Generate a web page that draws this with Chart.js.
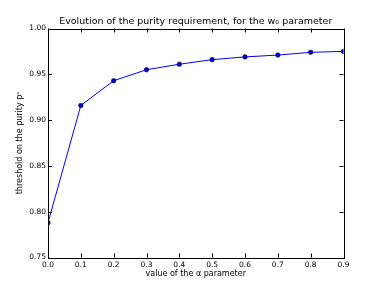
<!DOCTYPE html>
<html>
<head>
<meta charset="utf-8">
<script src="https://cdn.jsdelivr.net/npm/chart.js@4/dist/chart.umd.min.js"></script>
<style>
  html, body { margin: 0; padding: 0; background: #fff; }
  #wrap { width: 382px; height: 286px; }
</style>
</head>
<body>
<div id="wrap"><canvas id="myChart"></canvas></div>
<script>
const alphaValues = [0.0, 0.1, 0.2, 0.3, 0.4, 0.5, 0.6, 0.7, 0.8, 0.9];
const purityThresholds = [0.788, 0.916, 0.943, 0.955, 0.961, 0.966, 0.969, 0.971, 0.974, 0.975];
const xTicks = [0.0, 0.1, 0.2, 0.3, 0.4, 0.5, 0.6, 0.7, 0.8, 0.9];
const yTicks = [0.75, 0.80, 0.85, 0.90, 0.95, 1.00];
const chartTitle = "Evolution of the purity requirement, for the w₀ parameter";

const fontFamily = "'DejaVu Sans', sans-serif";

// matplotlib style frame with inward ticks on all four sides, title centred on the axes
const frameTicks = {
    id: "frameTicks",
    afterDraw(chart) {
        const { ctx, chartArea: a, scales } = chart;
        ctx.save();
        ctx.strokeStyle = "#000";
        ctx.lineWidth = 1;
        ctx.beginPath();
        xTicks.forEach((v) => {
            const x = Math.round(scales.x.getPixelForValue(v)) + 0.5;
            ctx.moveTo(x, a.bottom);
            ctx.lineTo(x, a.bottom - 4);
            ctx.moveTo(x, a.top);
            ctx.lineTo(x, a.top + 4);
        });
        yTicks.forEach((v) => {
            const y = Math.round(scales.y.getPixelForValue(v)) + 0.5;
            ctx.moveTo(a.left, y);
            ctx.lineTo(a.left + 4, y);
            ctx.moveTo(a.right, y);
            ctx.lineTo(a.right - 4, y);
        });
        ctx.stroke();
        ctx.strokeRect(Math.round(a.left) + 0.5, Math.round(a.top) + 0.5,
            Math.round(a.right - a.left), Math.round(a.bottom - a.top));

        ctx.fillStyle = "#000";
        ctx.font = "9.5px " + fontFamily;
        ctx.textAlign = "center";
        ctx.textBaseline = "middle";
        ctx.fillText(chartTitle, (a.left + a.right) / 2, 22);
        ctx.restore();
    },
};

const ctx = document.getElementById("myChart");

new Chart(ctx, {
    type: "line",
    data: {
        datasets: [
            {
                data: alphaValues.map((a, i) => ({ x: a, y: purityThresholds[i] })),
                borderColor: "#0000ff",
                borderWidth: 1,
                backgroundColor: "#0000cc",
                pointBackgroundColor: "#0000cc",
                pointBorderColor: "#000033",
                pointBorderWidth: 0.5,
                pointRadius: 2.3,
                tension: 0,
                clip: 0,
            },
        ],
    },
    options: {
        responsive: true,
        maintainAspectRatio: false,
        animation: false,
        layout: { padding: { left: 0, right: 38.5, top: 28.5, bottom: 0 } },
        scales: {
            x: {
                type: "linear",
                min: 0,
                max: 0.9,
                afterBuildTicks: (s) => { s.ticks = xTicks.map((v) => ({ value: v })); },
                afterFit: (s) => { s.height = 28.5; },
                grid: { display: false, drawTicks: false },
                border: { display: false },
                ticks: {
                    padding: 3,
                    color: "#000",
                    font: { family: fontFamily, size: 7.5 },
                    maxRotation: 0,
                    callback: (v) => v.toFixed(1),
                },
                title: {
                    display: true,
                    text: "value of the α parameter",
                    color: "#000",
                    font: { family: fontFamily, size: 8 },
                    padding: { top: 0, bottom: 7.5 },
                },
            },
            y: {
                min: 0.75,
                max: 1.0,
                afterBuildTicks: (s) => { s.ticks = yTicks.map((v) => ({ value: v })); },
                afterFit: (s) => { s.width = 48; },
                grid: { display: false, drawTicks: false },
                border: { display: false },
                ticks: {
                    padding: 2,
                    color: "#000",
                    font: { family: fontFamily, size: 7.5 },
                    callback: (v) => v.toFixed(2),
                },
                title: {
                    display: true,
                    text: "threshold on the purity pˢ",
                    color: "#000",
                    font: { family: fontFamily, size: 8 },
                    padding: { top: 15.5, bottom: 0 },
                },
            },
        },
        plugins: {
            legend: { display: false },
            tooltip: { enabled: false },
            title: { display: false },
        },
    },
    plugins: [frameTicks],
});
</script>
</body>
</html>
